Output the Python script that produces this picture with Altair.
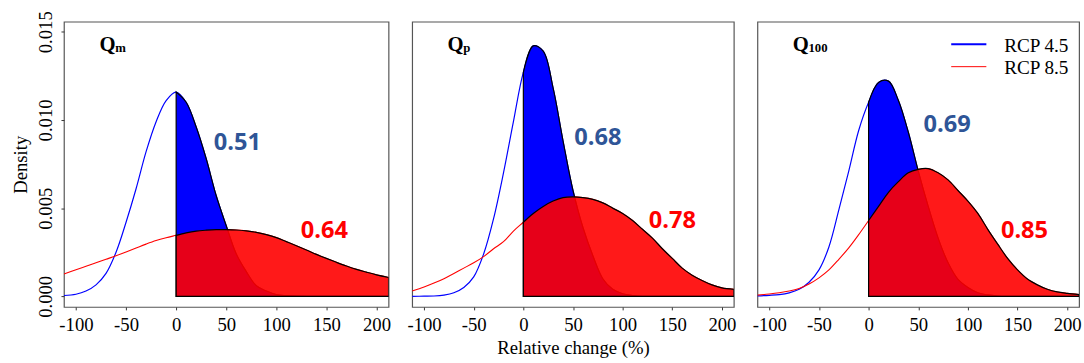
import altair as alt
import pandas as pd

# ---------------- data ----------------
XS = [-112, -100, -90, -80, -70, -60, -50, -40, -30, -20, -10, 0, 10, 20, 30, 40,
      50, 60, 70, 80, 90, 100, 110, 120, 130, 140, 150, 160, 170, 180, 190, 200, 212]

# Q_m
qm_rcp45 = [0.00005, 0.00012, 0.0003, 0.00065, 0.0013, 0.0025, 0.0042, 0.0061, 0.0082, 0.0099,
            0.0111, 0.01158, 0.0110, 0.0096, 0.0078, 0.0057, 0.0040, 0.0024, 0.0014, 0.0006,
            0.0003, 0.0001, 0.00004, 0.00001, 0.0, 0.0, 0.0, 0.0, 0.0, 0.0, 0.0, 0.0, 0.0]
qm_rcp85 = [0.00127, 0.00151, 0.0017, 0.0019, 0.0021, 0.0023, 0.00252, 0.00274, 0.00296, 0.00316,
            0.00332, 0.00346, 0.0036, 0.0037, 0.00375, 0.00378, 0.00378, 0.00376, 0.00371, 0.00363,
            0.0035, 0.00333, 0.0031, 0.00287, 0.00263, 0.00238, 0.00215, 0.00193, 0.00172, 0.00153,
            0.00137, 0.00122, 0.00107]
# Q_p
qp_rcp45 = [0.0, 0.00001, 0.00002, 0.00007, 0.0002, 0.0005, 0.0011, 0.0024, 0.0044, 0.0070,
            0.0099, 0.0127, 0.0142, 0.0139, 0.0118, 0.0088, 0.0060, 0.0039, 0.0023, 0.0010,
            0.0004, 0.00015, 0.00005, 0.0, 0.0, 0.0, 0.0, 0.0, 0.0, 0.0, 0.0, 0.0, 0.0]
qp_rcp85 = [0.0003, 0.00053, 0.00075, 0.001, 0.0013, 0.0016, 0.0019, 0.00225, 0.0027, 0.0031,
            0.0037, 0.0042, 0.0047, 0.0051, 0.0054, 0.0056, 0.00564, 0.0056, 0.0055, 0.0053,
            0.0050, 0.0047, 0.0043, 0.0038, 0.0033, 0.0027, 0.00215, 0.0016, 0.0012, 0.0009,
            0.00065, 0.00048, 0.0004]
# Q_100
q100_rcp45 = [0.00003, 0.00006, 0.0001, 0.0002, 0.0004, 0.0008, 0.0015, 0.0028, 0.0049, 0.0071,
              0.0094, 0.0110, 0.01212, 0.0122, 0.0111, 0.0093, 0.0071, 0.0051, 0.0033, 0.0019,
              0.00096, 0.0005, 0.0002, 0.00008, 0.00002, 0.0, 0.0, 0.0, 0.0, 0.0, 0.0, 0.0, 0.0]
q100_rcp85 = [0.00007, 0.00013, 0.0002, 0.0003, 0.00045, 0.0007, 0.00105, 0.0015, 0.0021, 0.00275,
              0.0035, 0.0043, 0.0051, 0.0059, 0.0065, 0.0070, 0.0072, 0.00724, 0.0070, 0.0066,
              0.0060, 0.0054, 0.0047, 0.0038, 0.00296, 0.00215, 0.0015, 0.00098, 0.00065, 0.0004,
              0.00025, 0.00017, 0.0001]

SERIES = {"m": (qm_rcp45, qm_rcp85), "p": (qp_rcp45, qp_rcp85), "100": (q100_rcp45, q100_rcp85)}

# probabilities of increase (annotations): value, x, y
PROB45 = {"m": ("0.51", 61, 0.0083), "p": ("0.68", 75, 0.00858), "100": ("0.69", 79, 0.00933)}
PROB85 = {"m": ("0.64", 148, 0.0033), "p": ("0.78", 150, 0.0039), "100": ("0.85", 157, 0.0033)}

LEG_LABELS = ["RCP 4.5", "RCP 8.5"]
LEG_COLORS = ["#0000FF", "#FF0000"]
LEG_WIDTHS = [2.2, 1.0]
LEG_Y = [0.01429, 0.01302]
LEG_TY = [0.01386, 0.01260]

XDOM = [-112, 212]
YDOM = [-0.0006, 0.01557]
XTICKS = [-100, -50, 0, 50, 100, 150, 200]
YTICKS = [0.0, 0.005, 0.010, 0.015]

SERIF = "Liberation Serif"
H = 290
INTERP = "catmull-rom"


def panel(key, show_y, xtitle, legend, width):
    a45, a85 = SERIES[key]
    df = pd.DataFrame({
        "x": XS + XS,
        "d": a45 + a85,
        "s": ["RCP 4.5"] * len(XS) + ["RCP 8.5"] * len(XS),
    })
    base = alt.Chart(df)
    xax = alt.Axis(values=XTICKS, grid=False, domain=False, tickSize=3, tickColor="#333333",
                   labelFont=SERIF, labelFontSize=19, labelColor="black", labelPadding=6,
                   labelExpr="'' + datum.value", labelFlush=False,
                   title=xtitle if xtitle else None, titleFont=SERIF, titleFontSize=19,
                   titleFontWeight="normal", titleColor="black", titlePadding=4)
    if show_y:
        yax = alt.Axis(values=YTICKS, format=".3f", grid=False, domain=False, tickSize=3,
                       tickColor="#333333", labelFont=SERIF, labelFontSize=19,
                       labelColor="black", labelAngle=270, labelAlign="center",
                       labelBaseline="bottom", labelPadding=6, labelFlush=False,
                       title="Density", titleFont=SERIF, titleFontSize=19,
                       titleFontWeight="normal", titleColor="black", titlePadding=6)
    else:
        yax = None
    xenc = alt.X("x:Q", scale=alt.Scale(domain=XDOM, nice=False, zero=False), axis=xax)
    yenc = alt.Y("d:Q", scale=alt.Scale(domain=YDOM, nice=False, zero=False), axis=yax)

    line45 = base.transform_filter("datum.s == 'RCP 4.5'").mark_line(
        interpolate=INTERP, color="#0000FF", strokeWidth=1.2, clip=True).encode(x=xenc, y=yenc)
    line85 = base.transform_filter("datum.s == 'RCP 8.5'").mark_line(
        interpolate=INTERP, color="#FF0000", strokeWidth=1.1, clip=True).encode(x=xenc, y=yenc)
    area45 = base.transform_filter("datum.s == 'RCP 4.5' && datum.x >= 0").mark_area(
        interpolate=INTERP, fill="#0000FF", stroke="black", strokeWidth=1.2, clip=True
    ).encode(x=xenc, y=yenc, y2=alt.datum(0))
    area85 = base.transform_filter("datum.s == 'RCP 8.5' && datum.x >= 0").mark_area(
        interpolate=INTERP, fill="#FF0000", fillOpacity=0.9, stroke="black",
        strokeWidth=1.2, clip=True
    ).encode(x=xenc, y=yenc, y2=alt.datum(0))

    p45 = PROB45[key]
    p85 = PROB85[key]
    ann = pd.DataFrame({"t": [p45[0], p85[0]], "x": [p45[1], p85[1]], "y": [p45[2], p85[2]],
                        "c": ["#2F5597", "#FF0000"]})
    ann_t = alt.Chart(ann).mark_text(font="Open Sans", fontSize=24, fontWeight="bold",
                                     align="center", baseline="alphabetic").encode(
        x=alt.X("x:Q"), y=alt.Y("y:Q"), text="t:N", color=alt.Color("c:N", scale=None))

    lab = pd.DataFrame({"q": ["Q"], "sub": [key], "x": [-76.5], "y": [0.0139]})
    q_t = alt.Chart(lab).mark_text(font=SERIF, fontSize=21, fontWeight="bold", align="left",
                                   baseline="alphabetic", color="black").encode(
        x="x:Q", y="y:Q", text="q:N")
    s_t = alt.Chart(lab).mark_text(font=SERIF, fontSize=13, fontWeight="bold", align="left",
                                   baseline="alphabetic", color="black", dx=16, dy=1).encode(
        x="x:Q", y="y:Q", text="sub:N")

    layers = [line45, line85, area45, area85, ann_t, q_t, s_t]
    if legend:
        leg = pd.DataFrame({"label": LEG_LABELS, "c": LEG_COLORS, "w": LEG_WIDTHS,
                            "y": LEG_Y, "ty": LEG_TY, "x0": [83.2, 83.2], "x1": [118.6, 118.6],
                            "tx": [136.5, 136.5]})
        leg_r = alt.Chart(leg).mark_rule().encode(
            x="x0:Q", x2="x1:Q", y="y:Q", color=alt.Color("c:N", scale=None),
            strokeWidth=alt.StrokeWidth("w:Q", scale=None))
        leg_t = alt.Chart(leg).mark_text(font=SERIF, fontSize=19.5, align="left",
                                         baseline="alphabetic", color="black").encode(
            x="tx:Q", y="ty:Q", text="label:N")
        layers += [leg_r, leg_t]
    return alt.layer(*layers).properties(width=width, height=H)


chart = alt.hconcat(
    panel("m", True, None, False, 330),
    panel("p", False, "Relative change (%)", False, 327),
    panel("100", False, None, True, 327),
    spacing=15,
).properties(
    padding={"left": 11, "top": 7, "right": 2, "bottom": 4},
    background="white",
).configure_view(stroke="#555555", strokeWidth=1.2)

chart.save("out.html", embed_options={"renderer": "svg", "actions": False})
